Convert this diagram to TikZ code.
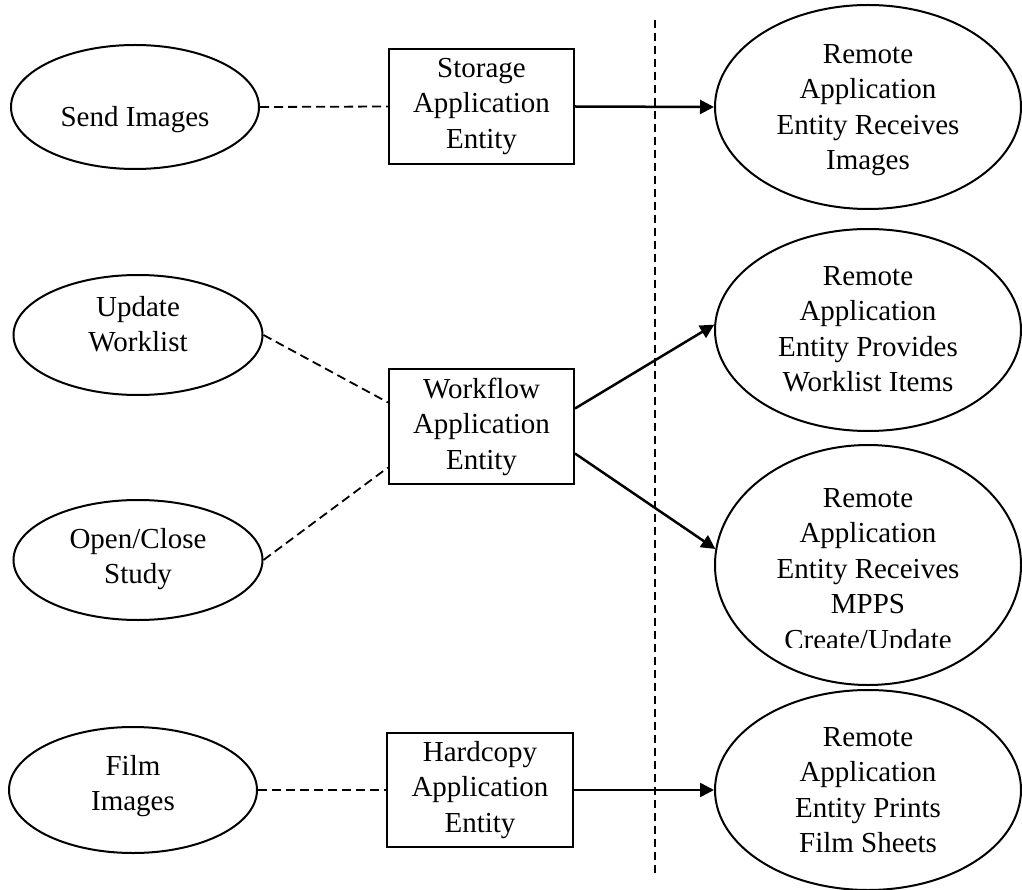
\documentclass[tikz,border=0pt]{standalone}
\usepackage{fontspec}
\setmainfont{Liberation Serif}
\usetikzlibrary{shapes.geometric,arrows.meta}
\begin{document}
\begin{tikzpicture}[x=1pt,y=-1pt,
  every node/.style={font=\fontsize{29}{35.5}\selectfont, align=center},
  oval/.style={draw, ellipse, line width=2pt, inner sep=0pt},
  abox/.style={draw, rectangle, line width=2pt, inner sep=0pt},
  txt/.style={inner sep=0pt},
  dline/.style={line width=1.8pt, dash pattern=on 9pt off 5pt},
  vline/.style={line width=1.6pt, dash pattern=on 8pt off 5pt},
  aline/.style={line width=2.5pt, -{Triangle[length=14pt,width=14pt]}},
]
\useasboundingbox (0,0) rectangle (1022,890);

% left use-case ellipses
\node[oval, minimum width=248pt, minimum height=124pt] (se) at (135,107) {};
\node[txt] (set) at (135,120) {Send Images};
\node[oval, minimum width=249pt, minimum height=120pt] (uw) at (138,335) {};
\node[txt] (uwt) at (138,324) {Update\\Worklist};
\node[oval, minimum width=249pt, minimum height=120pt] (oc) at (138,560) {};
\node[txt] (oct) at (138,559) {Open/Close\\Study};
\node[oval, minimum width=248pt, minimum height=126pt] (fi) at (133,790) {};
\node[txt] (fit) at (133,786) {Film\\Images};

% application entity boxes
\node[abox, minimum width=185pt, minimum height=115pt] (st) at (481.5,106.5) {Storage\\Application\\Entity};
\node[abox, minimum width=185pt, minimum height=115pt] (wf) at (481.5,426.5) {Workflow\\Application\\Entity};
\node[abox, minimum width=186pt, minimum height=114pt] (hc) at (480,790) {Hardcopy\\Application\\Entity};

% remote ellipses
\node[oval, minimum width=306pt, minimum height=204pt] (r1) at (868,107) {};
\node[txt] (r1t) at (868,110) {Remote\\Application\\Entity Receives\\Images};
\node[oval, minimum width=306pt, minimum height=202pt] (r2) at (868,330) {};
\node[txt] (r2t) at (868,329) {Remote\\Application\\Entity Provides\\Worklist Items};
\node[oval, minimum width=306pt, minimum height=240pt] (r3) at (868,565) {};
\begin{scope}
  \clip (700,440) rectangle (1030,647);
  \node[txt] (r3t) at (868,572) {Remote\\Application\\Entity Receives\\MPPS\\Create/Update};
\end{scope}
\node[oval, minimum width=306pt, minimum height=200pt] (r4) at (868,790) {};
\node[txt] (r4t) at (868,790) {Remote\\Application\\Entity Prints\\Film Sheets};

% boundary
\coordinate (vt) at (655,20);
\coordinate (vb) at (655,875);
\draw[vline] (vt) -- (vb);

% dashed associations
\draw[dline] (se.east) -- (st.west);
\draw[dline] (uw.east) -- ([yshift=24pt]wf.west);
\draw[dline] (oc.east) -- ([yshift=-41pt]wf.west);
\draw[dline] (fi.east) -- (hc.west);

% arrows
\draw[aline] (st.east) -- (r1.west);
\draw[aline] ([yshift=18pt]wf.east) -- (r2.178);
\draw[aline] ([yshift=-27pt]wf.east) -- (r3.174);
\draw[aline] (hc.east) -- (r4.west);
\end{tikzpicture}
\end{document}
